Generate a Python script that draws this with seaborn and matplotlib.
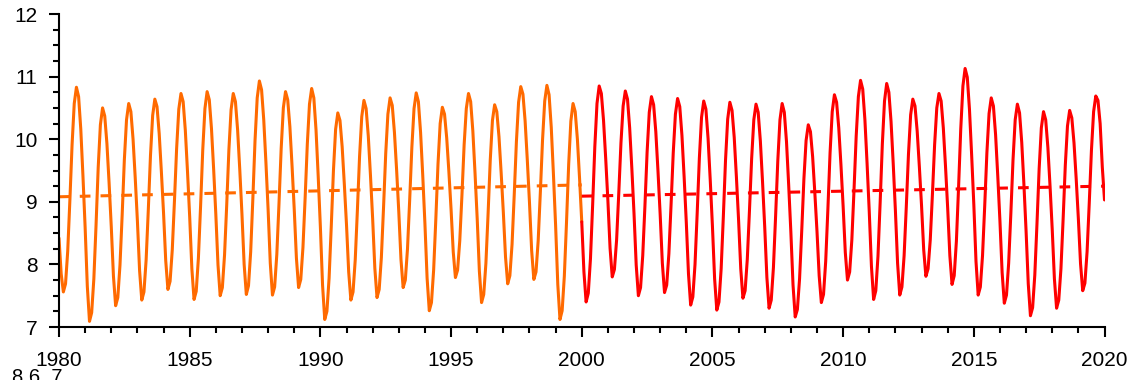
import numpy as np
import matplotlib
matplotlib.use("Agg")
import matplotlib.pyplot as plt
from matplotlib.ticker import MultipleLocator
import seaborn as sns

# Monthly values (Jan..Dec of each year), one list per decade
monthly_1980s = [
    8.42, 7.85, 7.56, 7.69, 8.21, 9.03, 9.91, 10.57, 10.83, 10.68, 10.16, 9.41,
    8.59, 7.65, 7.09, 7.23, 7.77, 8.62, 9.55, 10.23, 10.50, 10.37, 9.93, 9.30,
    8.60, 7.81, 7.34, 7.47, 7.99, 8.79, 9.67, 10.31, 10.57, 10.44, 10.00, 9.38,
    8.69, 7.90, 7.43, 7.56, 8.07, 8.87, 9.74, 10.38, 10.64, 10.52, 10.09, 9.48,
    8.82, 8.06, 7.60, 7.73, 8.23, 9.01, 9.85, 10.48, 10.73, 10.60, 10.14, 9.48,
    8.76, 7.93, 7.44, 7.57, 8.10, 8.93, 9.83, 10.49, 10.76, 10.63, 10.17, 9.52,
    8.80, 7.99, 7.50, 7.63, 8.15, 8.95, 9.83, 10.47, 10.73, 10.60, 10.15, 9.51,
    8.80, 8.00, 7.52, 7.66, 8.20, 9.05, 9.98, 10.66, 10.93, 10.79, 10.31, 9.63,
    8.88, 8.02, 7.51, 7.64, 8.16, 8.97, 9.85, 10.50, 10.76, 10.63, 10.20, 9.57,
    8.88, 8.10, 7.63, 7.76, 8.27, 9.06, 9.92, 10.56, 10.81, 10.66, 10.15, 9.41,
]
monthly_1990s = [
    8.60, 7.67, 7.12, 7.25, 7.78, 8.61, 9.50, 10.16, 10.42, 10.30, 9.88, 9.28,
    8.63, 7.88, 7.43, 7.56, 8.07, 8.87, 9.73, 10.36, 10.62, 10.49, 10.05, 9.42,
    8.73, 7.94, 7.47, 7.60, 8.11, 8.91, 9.77, 10.40, 10.66, 10.54, 10.11, 9.51,
    8.84, 8.08, 7.63, 7.75, 8.25, 9.03, 9.87, 10.49, 10.74, 10.60, 10.11, 9.42,
    8.65, 7.78, 7.26, 7.39, 7.91, 8.72, 9.60, 10.25, 10.51, 10.40, 10.02, 9.48,
    8.88, 8.20, 7.79, 7.91, 8.38, 9.11, 9.91, 10.49, 10.73, 10.60, 10.13, 9.46,
    8.73, 7.89, 7.39, 7.52, 8.02, 8.81, 9.67, 10.30, 10.55, 10.44, 10.04, 9.46,
    8.83, 8.12, 7.69, 7.82, 8.32, 9.11, 9.96, 10.59, 10.84, 10.72, 10.29, 9.67,
    8.99, 8.22, 7.76, 7.88, 8.38, 9.16, 9.99, 10.61, 10.86, 10.71, 10.19, 9.44,
    8.62, 7.68, 7.12, 7.26, 7.81, 8.67, 9.60, 10.29, 10.57, 10.44, 10.00, 9.37,
]
monthly_2000s = [
    8.68, 7.88, 7.40, 7.54, 8.09, 8.95, 9.88, 10.57, 10.85, 10.73, 10.30, 9.69,
    9.02, 8.26, 7.80, 7.92, 8.39, 9.14, 9.94, 10.53, 10.77, 10.64, 10.18, 9.53,
    8.81, 7.99, 7.50, 7.63, 8.14, 8.93, 9.79, 10.43, 10.68, 10.55, 10.12, 9.49,
    8.80, 8.02, 7.55, 7.67, 8.17, 8.95, 9.78, 10.40, 10.65, 10.52, 10.06, 9.40,
    8.67, 7.85, 7.35, 7.48, 8.00, 8.82, 9.70, 10.35, 10.61, 10.48, 10.01, 9.34,
    8.61, 7.77, 7.27, 7.40, 7.93, 8.76, 9.66, 10.32, 10.59, 10.46, 10.03, 9.40,
    8.71, 7.93, 7.46, 7.58, 8.08, 8.86, 9.69, 10.31, 10.56, 10.43, 9.97, 9.32,
    8.60, 7.79, 7.30, 7.43, 7.95, 8.77, 9.65, 10.31, 10.57, 10.43, 9.96, 9.27,
    8.52, 7.67, 7.16, 7.28, 7.77, 8.54, 9.37, 9.98, 10.23, 10.12, 9.72, 9.15,
    8.53, 7.82, 7.39, 7.52, 8.05, 8.88, 9.78, 10.44, 10.71, 10.59, 10.18, 9.59,
]
monthly_2010s = [
    8.93, 8.19, 7.75, 7.88, 8.39, 9.19, 10.05, 10.68, 10.94, 10.80, 10.31, 9.61,
    8.84, 7.97, 7.44, 7.58, 8.13, 8.99, 9.92, 10.61, 10.89, 10.75, 10.28, 9.61,
    8.86, 8.02, 7.51, 7.64, 8.14, 8.92, 9.76, 10.39, 10.64, 10.53, 10.13, 9.56,
    8.94, 8.23, 7.81, 7.93, 8.39, 9.12, 9.91, 10.50, 10.73, 10.61, 10.18, 9.57,
    8.90, 8.14, 7.68, 7.82, 8.37, 9.23, 10.16, 10.85, 11.13, 10.99, 10.48, 9.75,
    8.96, 8.05, 7.51, 7.64, 8.14, 8.93, 9.78, 10.41, 10.66, 10.53, 10.07, 9.41,
    8.69, 7.87, 7.38, 7.51, 8.02, 8.81, 9.67, 10.31, 10.56, 10.42, 9.95, 9.28,
    8.53, 7.69, 7.18, 7.31, 7.83, 8.65, 9.53, 10.18, 10.44, 10.31, 9.87, 9.25,
    8.56, 7.77, 7.30, 7.43, 7.93, 8.72, 9.58, 10.21, 10.46, 10.34, 9.94, 9.37,
    8.73, 8.01, 7.58, 7.70, 8.20, 8.98, 9.82, 10.44, 10.69, 10.62, 10.25, 9.55,
]
jan_2020 = 9.03

# Linear trend end points for each 20-year period
trend_years_a = [1980, 2000]
trend_vals_a = [9.08, 9.27]
trend_years_b = [2000, 2020]
trend_vals_b = [9.09, 9.25]

x_ticks = [1980, 1985, 1990, 1995, 2000, 2005, 2010, 2015, 2020]
y_ticks = [7, 8, 9, 10, 11, 12]

ORANGE = "#ff6a00"
RED = "#ff0000"

# Period A: Jan 1980 .. Jan 2000, period B: Jan 2000 .. Jan 2020
vals_a = np.array(monthly_1980s + monthly_1990s + [monthly_2000s[0]])
vals_b = np.array(monthly_2000s + monthly_2010s + [jan_2020])
time_a = 1980 + np.arange(len(vals_a)) / 12.0
time_b = 2000 + np.arange(len(vals_b)) / 12.0

sns.set_theme(style="ticks")
plt.rcParams["font.family"] = ["Liberation Sans", "DejaVu Sans"]

fig = plt.figure(figsize=(11.35, 3.8), dpi=100)
ax = fig.add_axes([59 / 1135, 1 - 327 / 380, (1104.5 - 59) / 1135, (327 - 14) / 380])

lw = 2.2
dash = (0, (3.5, 3.3))
sns.lineplot(x=time_a, y=vals_a, ax=ax, color=ORANGE, linewidth=lw,
             estimator=None, sort=False)
sns.lineplot(x=time_b, y=vals_b, ax=ax, color=RED, linewidth=lw,
             estimator=None, sort=False)
sns.lineplot(x=trend_years_a, y=trend_vals_a, ax=ax, color=ORANGE,
             linewidth=lw, linestyle=dash, estimator=None)
sns.lineplot(x=trend_years_b, y=trend_vals_b, ax=ax, color=RED,
             linewidth=lw, linestyle=dash, estimator=None)

ax.set_xlim(1980, 2020)
ax.set_ylim(7, 12)
ax.set_xticks(x_ticks)
ax.set_yticks(y_ticks)
ax.xaxis.set_minor_locator(MultipleLocator(1))
ax.yaxis.set_minor_locator(MultipleLocator(0.25))
ax.set_xlabel("")
ax.set_ylabel("")

sns.despine(ax=ax)
for side in ("left", "bottom"):
    ax.spines[side].set_linewidth(1.5)
    ax.spines[side].set_color("black")

ax.tick_params(axis="both", which="major", length=7.5, width=1.5,
               color="black", labelsize=15, labelcolor="black")
ax.tick_params(axis="both", which="minor", length=4.5, width=1.5, color="black")
ax.tick_params(axis="y", which="major", pad=8)
ax.tick_params(axis="x", which="major", pad=10)

fig.text(12 / 1135, -3 / 380, "8.6. 7", fontsize=14.5, color="black",
         ha="left", va="baseline")

fig.savefig("out.png", dpi=100)
